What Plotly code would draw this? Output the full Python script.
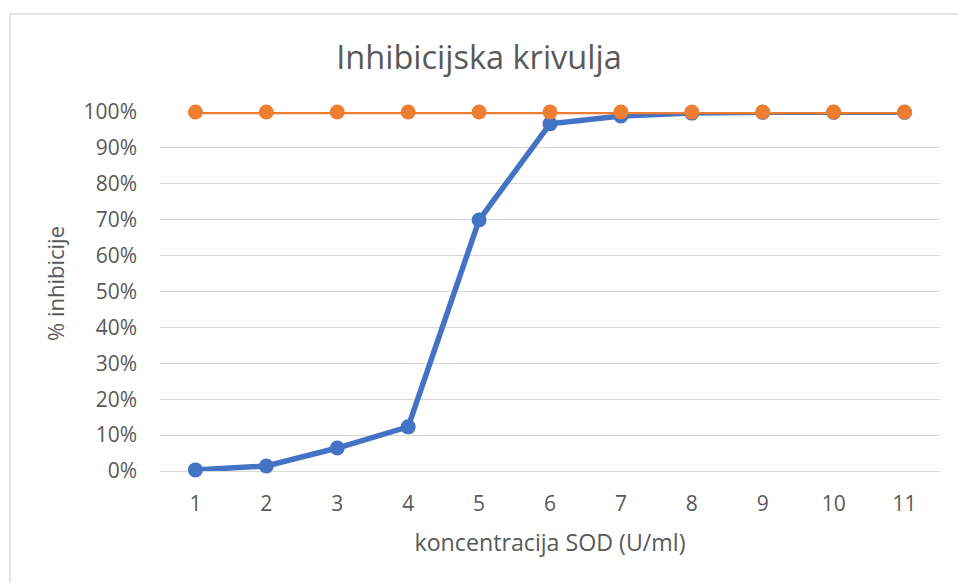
import plotly.graph_objects as go

# SOD concentration steps and inhibition fractions
koncentracija = [1, 2, 3, 4, 5, 6, 7, 8, 9, 10, 11]
inhibicija = [0.003, 0.014, 0.064, 0.123, 0.699, 0.967, 0.989, 0.997, 0.999, 0.999, 0.999]
maksimum = [1.0] * 11

fig = go.Figure()
fig.add_trace(go.Scatter(
    x=koncentracija, y=inhibicija, mode="lines+markers",
    line=dict(color="#4472C4", width=5.5),
    marker=dict(color="#4472C4", size=15),
    cliponaxis=False, showlegend=False,
))
fig.add_trace(go.Scatter(
    x=koncentracija, y=maksimum, mode="lines+markers",
    line=dict(color="#ED7D31", width=4.5),
    marker=dict(color="#ED7D31", size=15),
    cliponaxis=False, showlegend=False,
))

font_family = "'Open Sans', sans-serif"
fig.update_layout(
    width=958, height=583,
    margin=dict(l=160, r=18, t=112, b=112),
    paper_bgcolor="white", plot_bgcolor="white",
    font=dict(family=font_family, color="#595959", size=17),
    title=dict(text="Inhibicijska krivulja", x=0.5, xanchor="center",
               y=1 - 58 / 583, yanchor="middle",
               font=dict(size=32.5, color="#595959", family=font_family)),
    xaxis=dict(
        range=[0.5, 11.5], tickmode="array", tickvals=koncentracija,
        showgrid=False, zeroline=False, showline=False, ticks="",
        tickfont=dict(size=21),
        title=dict(text="koncentracija SOD (U/ml)", standoff=18,
                   font=dict(size=23.2)),
        ticklabelstandoff=18,
    ),
    yaxis=dict(
        range=[0, 1], tickformat=".0%", dtick=0.1,
        showgrid=True, gridcolor="#D9D9D9", gridwidth=1.3,
        zeroline=True, zerolinecolor="#D9D9D9", zerolinewidth=1.3,
        ticks="", ticklabelstandoff=22, tickfont=dict(size=21),
    ),
    annotations=[dict(text="% inhibicije", textangle=-90,
                      xref="paper", yref="paper",
                      x=-105 / 780, y=(471 - 284) / 359,
                      xanchor="center", yanchor="middle", showarrow=False,
                      font=dict(size=22, color="#595959", family=font_family))],
    shapes=[dict(type="rect", xref="paper", yref="paper",
                 x0=-150 / 780, x1=(958 - 160 + 5) / 780,
                 y0=-(112 + 10) / 359, y1=(583 - 112 - 14) / 359,
                 line=dict(color="#D9D9D9", width=1.3), layer="below")],
)

fig.write_html("out.html")
